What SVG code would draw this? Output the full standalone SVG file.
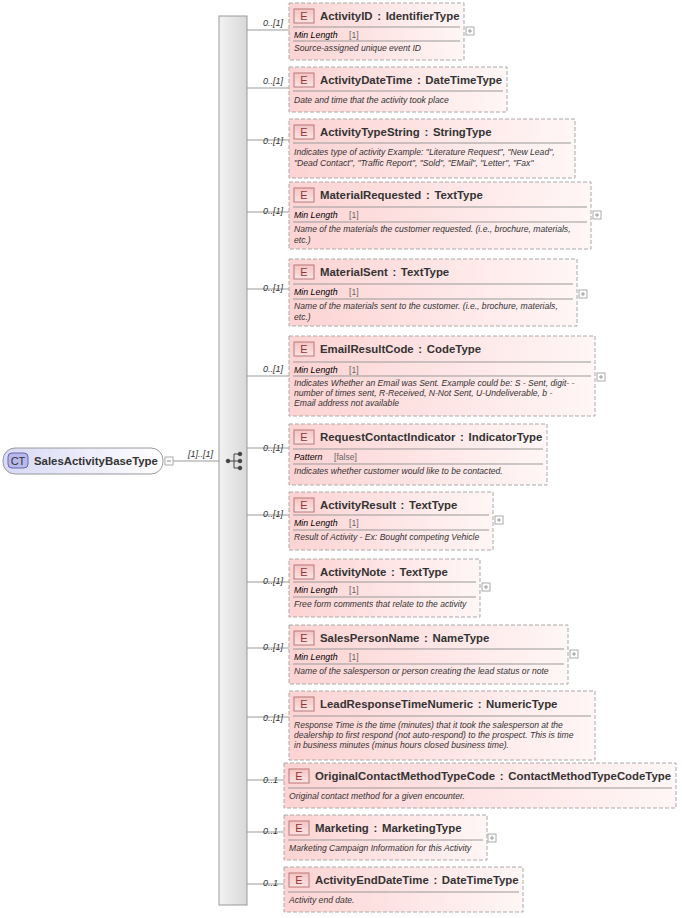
<svg xmlns="http://www.w3.org/2000/svg" width="682" height="918" viewBox="0 0 682 918">
<defs>
<linearGradient id="eg" x1="0" y1="0" x2="1" y2="0"><stop offset="0" stop-color="#fdd3d3"/><stop offset="1" stop-color="#fff6f6"/></linearGradient>
<linearGradient id="bg" x1="0" y1="0" x2="0" y2="1"><stop offset="0" stop-color="#f4c4c4"/><stop offset="1" stop-color="#fbe4e4"/></linearGradient>
<linearGradient id="sg" x1="0" y1="0" x2="1" y2="0"><stop offset="0" stop-color="#f2f2f2"/><stop offset="1" stop-color="#d8d8d8"/></linearGradient>
<linearGradient id="cg" x1="0" y1="0" x2="1" y2="0"><stop offset="0" stop-color="#d8d8f6"/><stop offset="1" stop-color="#ffffff"/></linearGradient>
</defs>
<style>
text{font-family:"Liberation Sans",Arial,sans-serif;fill:#333}
.box{fill:url(#eg);stroke:#aaa;stroke-dasharray:4,2}
.badge{fill:url(#bg);stroke:#b77}
.bt{font-size:11px;text-anchor:middle;fill:#933}
.t{font-size:11.4px;font-weight:bold;word-spacing:1.5px}
.sep{stroke:#999;stroke-width:1}
.d{font-size:8.6px;font-style:italic}
.fk{font-size:8.8px;font-style:italic;fill:#000}
.fv{font-size:8.6px;fill:#666}
.m{font-size:9px;font-style:italic}
.c{stroke:#999;fill:none}
.pl{fill:#fff;stroke:#aaa}
</style>
<g id="connectors">
<line class="c" x1="172" y1="461" x2="219" y2="461"/>
<line class="c" x1="247" y1="30" x2="289" y2="30"/>
<line class="c" x1="247" y1="88" x2="289" y2="88"/>
<line class="c" x1="247" y1="140" x2="289" y2="140"/>
<line class="c" x1="247" y1="212" x2="289" y2="212"/>
<line class="c" x1="247" y1="289" x2="289" y2="289"/>
<line class="c" x1="247" y1="376" x2="289" y2="376"/>
<line class="c" x1="247" y1="448" x2="289" y2="448"/>
<line class="c" x1="247" y1="515" x2="289" y2="515"/>
<line class="c" x1="247" y1="582" x2="289" y2="582"/>
<line class="c" x1="247" y1="648" x2="289" y2="648"/>
<line class="c" x1="247" y1="717" x2="289" y2="717"/>
<line class="c" x1="247" y1="780" x2="284" y2="780"/>
<line class="c" x1="247" y1="832" x2="284" y2="832"/>
<line class="c" x1="247" y1="884" x2="284" y2="884"/>
<text class="m" x="188" y="457">[1]..[1]</text>
<text class="m" x="263" y="26">0..[1]</text>
<text class="m" x="263" y="84">0..[1]</text>
<text class="m" x="263" y="144">0..[1]</text>
<text class="m" x="263" y="214">0..[1]</text>
<text class="m" x="263" y="291">0..[1]</text>
<text class="m" x="263" y="372">0..[1]</text>
<text class="m" x="263" y="451">0..[1]</text>
<text class="m" x="263" y="517">0..[1]</text>
<text class="m" x="263" y="584">0..[1]</text>
<text class="m" x="263" y="650">0..[1]</text>
<text class="m" x="263" y="721">0..[1]</text>
<text class="m" x="263" y="783">0..1</text>
<text class="m" x="263" y="834">0..1</text>
<text class="m" x="263" y="886">0..1</text>
</g>
<g id="root">
<rect x="3" y="448" width="160" height="26" rx="12" fill="url(#cg)" stroke="#999"/>
<rect x="8" y="453" width="20" height="15" rx="4" fill="#b8b8ec" stroke="#66a"/>
<text x="18" y="465" font-size="11" text-anchor="middle" fill="#336">CT</text>
<text class="t" x="34" y="465">SalesActivityBaseType</text>
<rect class="pl" x="165" y="457" width="8" height="8"/><line x1="167" y1="461" x2="171" y2="461" stroke="#888"/>
</g>
<g id="sequence">
<rect x="219" y="16" width="28" height="889" fill="url(#sg)" stroke="#999"/>
<g stroke="#444" fill="#444">
<line x1="227" y1="461" x2="234" y2="461"/><line x1="234" y1="454" x2="234" y2="468"/>
<line x1="234" y1="454" x2="239" y2="454"/><line x1="234" y1="461" x2="239" y2="461"/><line x1="234" y1="468" x2="239" y2="468"/>
<circle cx="228" cy="461" r="1.8"/><circle cx="240" cy="454" r="1.8"/><circle cx="240" cy="461" r="1.8"/><circle cx="240" cy="468" r="1.8"/>
</g>
</g>
<g id="ActivityID">
<rect class="box" x="289" y="3" width="175" height="57"/>
<rect class="badge" x="294" y="9" width="20" height="14"/><text class="bt" x="304" y="20">E</text>
<text class="t" x="320" y="20">ActivityID : IdentifierType</text>
<line class="sep" x1="293" y1="27" x2="460" y2="27"/>
<text class="fk" x="294" y="38">Min Length</text><text class="fv" x="349" y="38">[1]</text>
<line class="sep" x1="293" y1="41" x2="460" y2="41"/>
<text class="d" x="294" y="51">Source-assigned unique event ID</text>
<rect class="pl" x="466" y="27" width="8" height="8"/><path d="M468 31h4M470 29v4" stroke="#999"/>
</g>
<g id="ActivityDateTime">
<rect class="box" x="289" y="67" width="218" height="45"/>
<rect class="badge" x="294" y="73" width="20" height="14"/><text class="bt" x="304" y="84">E</text>
<text class="t" x="320" y="84">ActivityDateTime : DateTimeType</text>
<line class="sep" x1="293" y1="91" x2="503" y2="91"/>
<text class="d" x="294" y="103">Date and time that the activity took place</text>
</g>
<g id="ActivityTypeString">
<rect class="box" x="289" y="119" width="286" height="59"/>
<rect class="badge" x="294" y="125" width="20" height="14"/><text class="bt" x="304" y="136">E</text>
<text class="t" x="320" y="136">ActivityTypeString : StringType</text>
<line class="sep" x1="293" y1="143" x2="571" y2="143"/>
<text class="d" x="294" y="155">Indicates type of activity Example: "Literature Request", "New Lead",</text>
<text class="d" x="294" y="166">"Dead Contact", "Traffic Report", "Sold", "EMail", "Letter", "Fax"</text>
</g>
<g id="MaterialRequested">
<rect class="box" x="289" y="182" width="302" height="67"/>
<rect class="badge" x="294" y="188" width="20" height="14"/><text class="bt" x="304" y="199">E</text>
<text class="t" x="320" y="199">MaterialRequested : TextType</text>
<line class="sep" x1="293" y1="207" x2="587" y2="207"/>
<text class="fk" x="294" y="218">Min Length</text><text class="fv" x="349" y="218">[1]</text>
<line class="sep" x1="293" y1="222" x2="587" y2="222"/>
<text class="d" x="294" y="232">Name of the materials the customer requested. (i.e., brochure, materials,</text>
<text class="d" x="294" y="243">etc.)</text>
<rect class="pl" x="593" y="211" width="8" height="8"/><path d="M595 215h4M597 213v4" stroke="#999"/>
</g>
<g id="MaterialSent">
<rect class="box" x="289" y="259" width="288" height="67"/>
<rect class="badge" x="294" y="265" width="20" height="14"/><text class="bt" x="304" y="276">E</text>
<text class="t" x="320" y="276">MaterialSent : TextType</text>
<line class="sep" x1="293" y1="284" x2="573" y2="284"/>
<text class="fk" x="294" y="295">Min Length</text><text class="fv" x="349" y="295">[1]</text>
<line class="sep" x1="293" y1="299" x2="573" y2="299"/>
<text class="d" x="294" y="309">Name of the materials sent to the customer. (i.e., brochure, materials,</text>
<text class="d" x="294" y="320">etc.)</text>
<rect class="pl" x="579" y="290" width="8" height="8"/><path d="M581 294h4M583 292v4" stroke="#999"/>
</g>
<g id="EmailResultCode">
<rect class="box" x="289" y="336" width="306" height="80"/>
<rect class="badge" x="294" y="342" width="20" height="14"/><text class="bt" x="304" y="353">E</text>
<text class="t" x="320" y="353">EmailResultCode : CodeType</text>
<line class="sep" x1="293" y1="362" x2="591" y2="362"/>
<text class="fk" x="294" y="373">Min Length</text><text class="fv" x="349" y="373">[1]</text>
<line class="sep" x1="293" y1="376" x2="591" y2="376"/>
<text class="d" x="294" y="386">Indicates Whether an Email was Sent. Example could be: S - Sent, digit- -</text>
<text class="d" x="294" y="396">number of times sent, R-Received, N-Not Sent, U-Undeliverable, b -</text>
<text class="d" x="294" y="406">Email address not available</text>
<rect class="pl" x="597" y="373" width="8" height="8"/><path d="M599 377h4M601 375v4" stroke="#999"/>
</g>
<g id="RequestContactIndicator">
<rect class="box" x="289" y="424" width="258" height="61"/>
<rect class="badge" x="294" y="430" width="20" height="14"/><text class="bt" x="304" y="441">E</text>
<text class="t" x="320" y="441">RequestContactIndicator : IndicatorType</text>
<line class="sep" x1="293" y1="449" x2="543" y2="449"/>
<text class="fk" x="294" y="460">Pattern</text><text class="fv" x="334" y="460">[false]</text>
<line class="sep" x1="293" y1="464" x2="543" y2="464"/>
<text class="d" x="294" y="474">Indicates whether customer would like to be contacted.</text>
</g>
<g id="ActivityResult">
<rect class="box" x="289" y="492" width="204" height="58"/>
<rect class="badge" x="294" y="498" width="20" height="14"/><text class="bt" x="304" y="509">E</text>
<text class="t" x="320" y="509">ActivityResult : TextType</text>
<line class="sep" x1="293" y1="515" x2="489" y2="515"/>
<text class="fk" x="294" y="526">Min Length</text><text class="fv" x="349" y="526">[1]</text>
<line class="sep" x1="293" y1="530" x2="489" y2="530"/>
<text class="d" x="294" y="540">Result of Activity - Ex: Bought competing Vehicle</text>
<rect class="pl" x="495" y="516" width="8" height="8"/><path d="M497 520h4M499 518v4" stroke="#999"/>
</g>
<g id="ActivityNote">
<rect class="box" x="289" y="559" width="191" height="58"/>
<rect class="badge" x="294" y="565" width="20" height="14"/><text class="bt" x="304" y="576">E</text>
<text class="t" x="320" y="576">ActivityNote : TextType</text>
<line class="sep" x1="293" y1="582" x2="476" y2="582"/>
<text class="fk" x="294" y="593">Min Length</text><text class="fv" x="349" y="593">[1]</text>
<line class="sep" x1="293" y1="597" x2="476" y2="597"/>
<text class="d" x="294" y="607">Free form comments that relate to the activity</text>
<rect class="pl" x="482" y="583" width="8" height="8"/><path d="M484 587h4M486 585v4" stroke="#999"/>
</g>
<g id="SalesPersonName">
<rect class="box" x="289" y="625" width="279" height="59"/>
<rect class="badge" x="294" y="631" width="20" height="14"/><text class="bt" x="304" y="642">E</text>
<text class="t" x="320" y="642">SalesPersonName : NameType</text>
<line class="sep" x1="293" y1="649" x2="564" y2="649"/>
<text class="fk" x="294" y="660">Min Length</text><text class="fv" x="349" y="660">[1]</text>
<line class="sep" x1="293" y1="664" x2="564" y2="664"/>
<text class="d" x="294" y="674">Name of the salesperson or person creating the lead status or note</text>
<rect class="pl" x="570" y="650" width="8" height="8"/><path d="M572 654h4M574 652v4" stroke="#999"/>
</g>
<g id="LeadResponseTimeNumeric">
<rect class="box" x="289" y="691" width="306" height="69"/>
<rect class="badge" x="294" y="697" width="20" height="14"/><text class="bt" x="304" y="708">E</text>
<text class="t" x="320" y="708">LeadResponseTimeNumeric : NumericType</text>
<line class="sep" x1="293" y1="716" x2="591" y2="716"/>
<text class="d" x="294" y="728">Response Time is the time (minutes) that it took the salesperson at the</text>
<text class="d" x="294" y="738">dealership to first respond (not auto-respond) to the prospect. This is time</text>
<text class="d" x="294" y="748">in business minutes (minus hours closed business time).</text>
</g>
<g id="OriginalContactMethodTypeCode">
<rect class="box" x="284" y="763" width="392" height="45"/>
<rect class="badge" x="289" y="769" width="20" height="14"/><text class="bt" x="299" y="780">E</text>
<text class="t" x="315" y="780">OriginalContactMethodTypeCode : ContactMethodTypeCodeType</text>
<line class="sep" x1="288" y1="788" x2="672" y2="788"/>
<text class="d" x="289" y="799">Original contact method for a given encounter.</text>
</g>
<g id="Marketing">
<rect class="box" x="284" y="815" width="203" height="45"/>
<rect class="badge" x="289" y="821" width="20" height="14"/><text class="bt" x="299" y="832">E</text>
<text class="t" x="315" y="832">Marketing : MarketingType</text>
<line class="sep" x1="288" y1="840" x2="483" y2="840"/>
<text class="d" x="289" y="851">Marketing Campaign Information for this Activity</text>
<rect class="pl" x="488" y="834" width="8" height="8"/><path d="M490 838h4M492 836v4" stroke="#999"/>
</g>
<g id="ActivityEndDateTime">
<rect class="box" x="284" y="867" width="239" height="45"/>
<rect class="badge" x="289" y="873" width="20" height="14"/><text class="bt" x="299" y="884">E</text>
<text class="t" x="315" y="884">ActivityEndDateTime : DateTimeType</text>
<line class="sep" x1="288" y1="892" x2="519" y2="892"/>
<text class="d" x="289" y="903">Activity end date.</text>
</g>
</svg>
